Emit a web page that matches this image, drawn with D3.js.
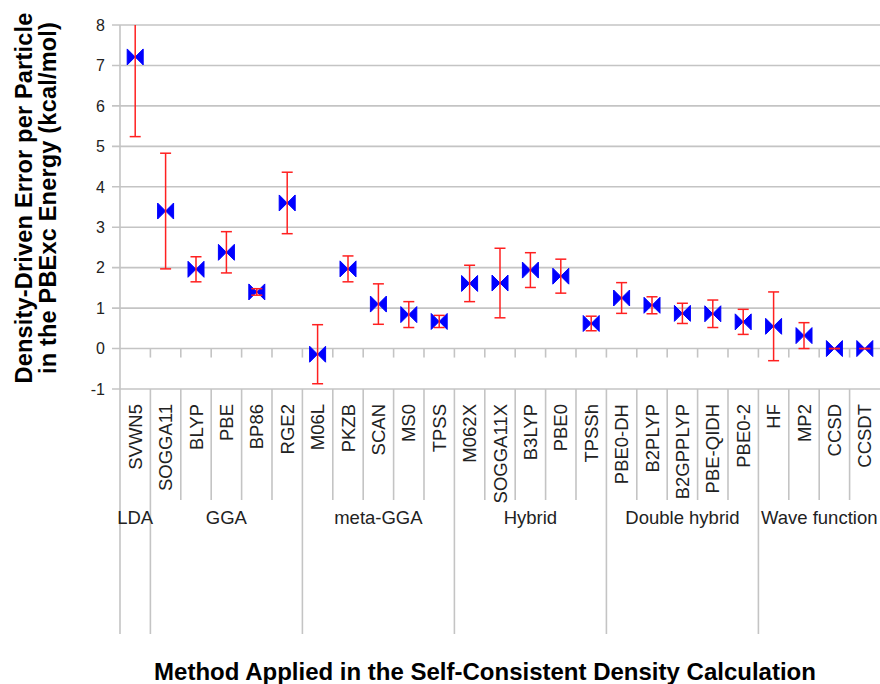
<!DOCTYPE html>
<html>
<head>
<meta charset="utf-8">
<script src="https://cdn.jsdelivr.net/npm/d3@7"></script>
<style>
  body { margin: 0; background: #fff; }
  svg { display: block; font-family: "Liberation Sans", Arial, sans-serif; }
</style>
</head>
<body>
<svg id="chart" width="880" height="684"></svg>
<script>
// methods, in plot order
var methods = ["SVWN5", "SOGGA11", "BLYP", "PBE", "BP86", "RGE2", "M06L", "PKZB", "SCAN", "MS0", "TPSS",
  "M062X", "SOGGA11X", "B3LYP", "PBE0", "TPSSh", "PBE0-DH", "B2PLYP", "B2GPPLYP", "PBE-QIDH", "PBE0-2",
  "HF", "MP2", "CCSD", "CCSDT"];

// mean density-driven error per particle (kcal/mol)
var meanErr = [7.21, 3.40, 1.96, 2.38, 1.40, 3.60, -0.14, 1.97, 1.10, 0.84, 0.67,
  1.61, 1.62, 1.94, 1.79, 0.62, 1.25, 1.07, 0.87, 0.86, 0.66,
  0.55, 0.32, 0.00, 0.00];

// error bar half-widths
var spread = [1.97, 1.43, 0.31, 0.51, 0.08, 0.76, 0.73, 0.32, 0.50, 0.32, 0.15,
  0.45, 0.86, 0.43, 0.42, 0.18, 0.38, 0.21, 0.25, 0.34, 0.31,
  0.85, 0.32, 0.00, 0.00];

// method families and how many methods each holds
var families = ["LDA", "GGA", "meta-GGA", "Hybrid", "Double hybrid", "Wave function"];
var familySize = [1, 5, 5, 5, 5, 4];

var yTicks = [-1, 0, 1, 2, 3, 4, 5, 6, 7, 8];

var svg = d3.select("#chart");
var gridColor = "#c4c4c4";

// scales
var x = d3.scaleBand().domain(methods).range([120, 880]).padding(0);
var y = d3.scaleLinear().domain([-1, 8]).range([389, 25]);
var bw = x.bandwidth();

// horizontal gridlines + tick marks to the left
svg.append("g").selectAll("line").data(yTicks).enter().append("line")
  .attr("x1", 112).attr("x2", 880)
  .attr("y1", function(d){ return y(d); }).attr("y2", function(d){ return y(d); })
  .style("stroke", gridColor).style("stroke-width", 1.6);

// y axis line, carried down through the label area
svg.append("line").attr("x1", 120).attr("x2", 120).attr("y1", y(8)).attr("y2", 634)
  .style("stroke", gridColor).style("stroke-width", 1.6);

// y tick labels
svg.append("g").selectAll("text").data(yTicks).enter().append("text")
  .attr("x", 105).attr("y", function(d){ return y(d); })
  .attr("dy", "0.36em")
  .attr("text-anchor", "end")
  .style("font-size", "16px").style("fill", "#222")
  .text(function(d){ return d; });

// small ticks on the zero line between categories
svg.append("g").selectAll("line").data(methods.slice(1)).enter().append("line")
  .attr("x1", function(d){ return x(d); }).attr("x2", function(d){ return x(d); })
  .attr("y1", y(0)).attr("y2", y(0) + 9)
  .style("stroke", gridColor).style("stroke-width", 1.6);

// family boundaries (index where each family starts)
var starts = [];
var acc = 0;
familySize.forEach(function(n){ starts.push(acc); acc += n; });

// category separators in the label area
svg.append("g").selectAll("line").data(methods.slice(1)).enter().append("line")
  .attr("x1", function(d){ return x(d); }).attr("x2", function(d){ return x(d); })
  .attr("y1", y(-1))
  .attr("y2", function(d, i){ return starts.indexOf(i + 1) >= 0 ? 634 : 500; })
  .style("stroke", gridColor).style("stroke-width", 1.6);

// rotated method labels
svg.append("g").selectAll("text").data(methods).enter().append("text")
  .attr("transform", function(d){ return "translate(" + (x(d) + bw / 2 + 6.5) + ",404) rotate(-90)"; })
  .attr("text-anchor", "end")
  .style("font-size", "18.5px").style("fill", "#222")
  .text(function(d){ return d; });

// family labels
svg.append("g").selectAll("text").data(families).enter().append("text")
  .attr("x", function(d, i){
    var a = x(methods[starts[i]]);
    var b = x(methods[starts[i] + familySize[i] - 1]) + bw;
    return (a + b) / 2;
  })
  .attr("y", 524)
  .attr("text-anchor", "middle")
  .style("font-size", "18.5px").style("fill", "#222")
  .text(function(d){ return d; });

// clip marks to the plot area
svg.append("clipPath").attr("id", "plotclip").append("rect")
  .attr("x", 120).attr("y", y(8)).attr("width", 760).attr("height", y(-1) - y(8));

var pts = methods.map(function(m, i){ return { m: m, v: meanErr[i], e: spread[i] }; });
var plot = svg.append("g").attr("clip-path", "url(#plotclip)");

// bow-tie markers
plot.selectAll("path.mk").data(pts).enter().append("path")
  .attr("class", "mk")
  .attr("d", "M-8,-8 L0,0 L-8,8 Z M8,-8 L0,0 L8,8 Z")
  .attr("transform", function(d){ return "translate(" + (x(d.m) + bw / 2) + "," + y(d.v) + ")"; })
  .style("fill", "#0000ff").style("stroke", "#0000ff").style("stroke-width", 1).style("stroke-linejoin", "round");

// error bars
var eb = plot.selectAll("g.eb").data(pts).enter().append("g").attr("class", "eb")
  .attr("transform", function(d){ return "translate(" + (x(d.m) + bw / 2) + ",0)"; })
  .style("stroke", "#ff2020").style("stroke-width", 1.5);
eb.append("line").attr("x1", 0).attr("x2", 0)
  .attr("y1", function(d){ return y(d.v + d.e); }).attr("y2", function(d){ return y(d.v - d.e); });
eb.append("line").attr("x1", -5.5).attr("x2", 5.5)
  .attr("y1", function(d){ return y(d.v + d.e); }).attr("y2", function(d){ return y(d.v + d.e); });
eb.append("line").attr("x1", -5.5).attr("x2", 5.5)
  .attr("y1", function(d){ return y(d.v - d.e); }).attr("y2", function(d){ return y(d.v - d.e); });

// axis titles
var yt = svg.append("text")
  .attr("transform", "translate(0,198) rotate(-90)")
  .attr("text-anchor", "middle")
  .style("font-size", "23.5px").style("font-weight", "bold").style("fill", "#000")
  .style("letter-spacing", "0.2px");
yt.append("tspan").attr("x", 0).attr("y", 32).text("Density-Driven Error per Particle");
yt.append("tspan").attr("x", 0).attr("y", 56).text("in the PBExc Energy (kcal/mol)");

svg.append("text")
  .attr("x", 485).attr("y", 680)
  .attr("text-anchor", "middle")
  .style("font-size", "24px").style("font-weight", "bold").style("fill", "#000")
  .text("Method Applied in the Self-Consistent Density Calculation");
</script>
</body>
</html>
